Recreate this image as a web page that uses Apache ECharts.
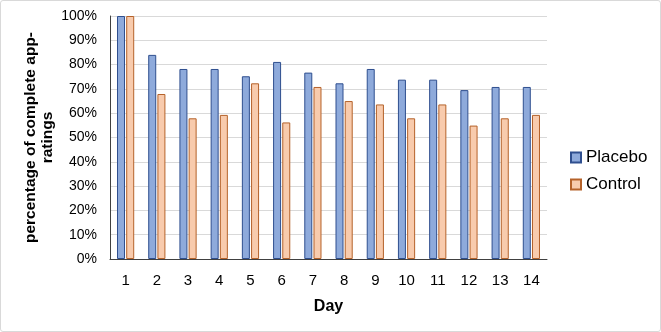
<!DOCTYPE html>
<html>
<head>
<meta charset="utf-8">
<script src="https://cdn.jsdelivr.net/npm/echarts@6/dist/echarts.min.js"></script>
<style>
    html, body { margin: 0; padding: 0; background: #fff; }
    #chart { width: 661px; height: 332px; box-sizing: border-box; border: 1px solid #d9d9d9; border-radius: 3px; }
</style>
</head>
<body>
<div id="chart"></div>
<script>
    const days = ['1', '2', '3', '4', '5', '6', '7', '8', '9', '10', '11', '12', '13', '14']
    const placebo = [100, 84.0, 78.2, 78.2, 75.2, 81.1, 76.7, 72.3, 78.2, 73.8, 73.8, 69.5, 70.8, 70.8]
    const control = [100, 67.9, 57.9, 59.3, 72.3, 56.2, 70.8, 65.0, 63.6, 57.9, 63.6, 54.9, 57.9, 59.3]

    const chart = echarts.init(document.getElementById('chart'))
    const font = 'Liberation Sans, Arial, sans-serif'

    chart.setOption({
        animation: false,
        textStyle: { fontFamily: font },
        grid: { left: 109, right: 113, top: 15, bottom: 72 },
        legend: {
            orient: 'vertical',
            left: 564,
            top: 143,
            itemWidth: 10,
            itemHeight: 10,
            itemGap: 10,
            icon: 'rect',
            textStyle: { fontSize: 17, color: '#000', fontFamily: font },
            data: ['Placebo', 'Control']
        },
        xAxis: {
            type: 'category',
            data: days,
            name: 'Day',
            nameLocation: 'middle',
            nameGap: 40,
            nameMoveOverlap: false,
            nameTextStyle: { fontSize: 16, fontWeight: 'bold', color: '#000' },
            axisLine: { lineStyle: { color: '#404040' } },
            axisTick: { show: false },
            axisLabel: { fontSize: 15, color: '#000', margin: 14 }
        },
        yAxis: {
            type: 'value',
            min: 0,
            max: 100,
            interval: 10,
            name: 'percentage of complete app-\nratings',
            nameLocation: 'middle',
            nameGap: 54,
            nameMoveOverlap: false,
            nameTextStyle: { fontSize: 15.5, fontWeight: 'bold', color: '#000', lineHeight: 17 },
            axisLine: { show: true, lineStyle: { color: '#404040' } },
            axisTick: { show: false },
            axisLabel: { fontSize: 14, color: '#000', formatter: '{value}%', margin: 13 },
            splitLine: { lineStyle: { color: '#d9d9d9' } }
        },
        series: [
            {
                name: 'Placebo',
                type: 'bar',
                data: placebo,
                barWidth: 8,
                barGap: '15%',
                itemStyle: { color: '#8eaadb', borderColor: '#2f4f8f', borderWidth: 1 }
            },
            {
                name: 'Control',
                type: 'bar',
                data: control,
                barWidth: 8,
                itemStyle: { color: '#f8cbad', borderColor: '#b5622a', borderWidth: 1 }
            }
        ]
    })
</script>
</body>
</html>
